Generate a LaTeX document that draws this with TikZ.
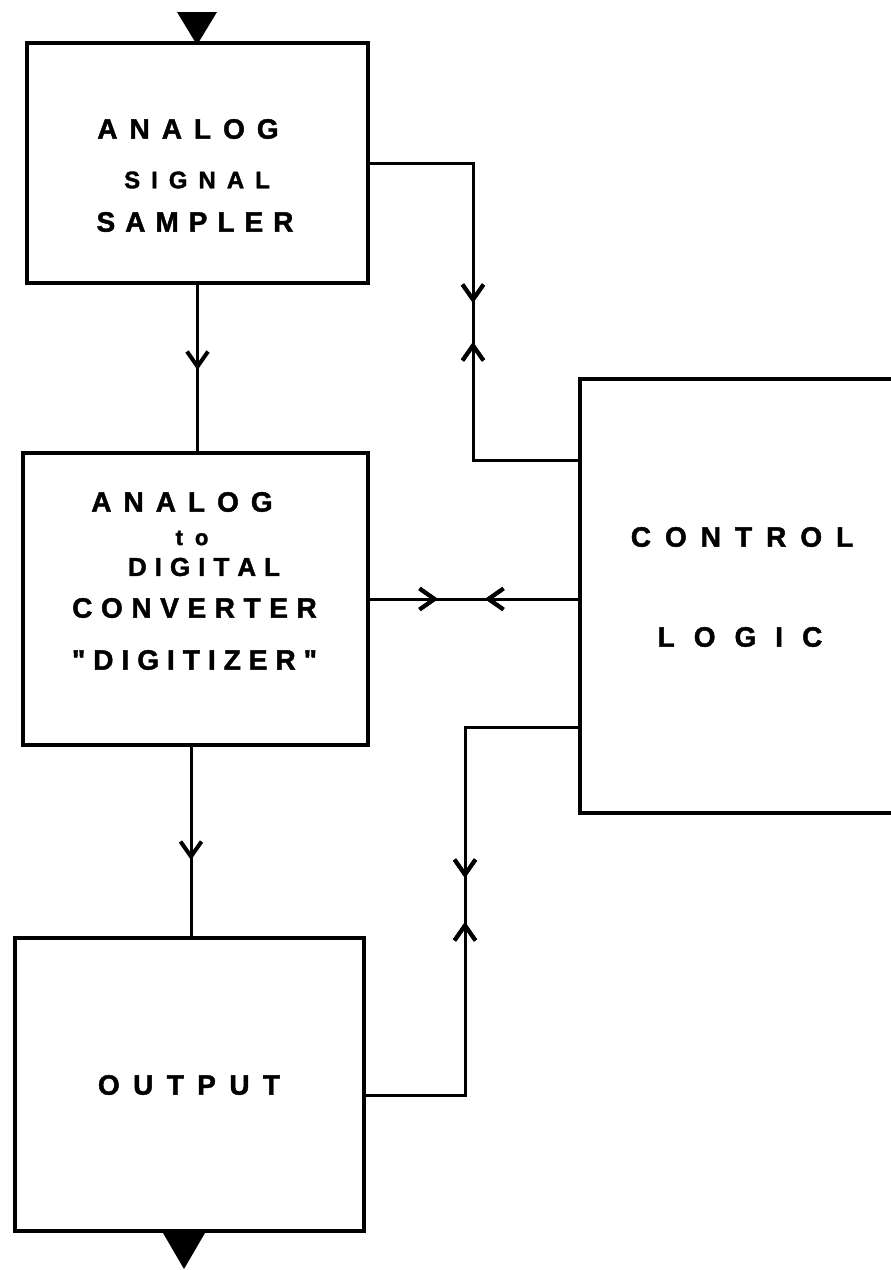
\documentclass[tikz,border=0pt]{standalone}
\usepackage{fontspec}
\setmainfont{Liberation Sans}[Ligatures=TeXOff, BoldFeatures={FakeBold=1.6}]
\usetikzlibrary{arrows.meta,decorations.markings}
\makeatletter
\newcommand\spc[2]{{\def\sp@k{#1}\@tfor\ch:=#2\do{\ch\kern\sp@k}\unkern}}
\makeatother
\tikzset{
  blk/.style={draw, line width=3.5pt, inner sep=0pt, outer sep=0pt, rectangle},
  conn/.style={line width=3pt, line cap=round, line join=miter},
  lbl/.style={inner sep=0pt, font=\bfseries\fontsize{28}{30}\selectfont},
  tipat/.style={postaction={decorate}, decoration={markings, mark=at position #1 with {\arrow{Straight Barb[length=15pt, width=21pt, line width=4pt]}}}},
  revat/.style={postaction={decorate}, decoration={markings, mark=at position #1 with {\arrowreversed{Straight Barb[length=15pt, width=21pt, line width=4pt]}}}}
}
\begin{document}
\begin{tikzpicture}[x=1pt,y=-1pt]
\path[use as bounding box, fill=white] (0,0) rectangle (891,1270);
\clip (0,0) rectangle (891,1270);

% boxes
\node[blk, minimum width=341pt, minimum height=240pt] (b1) at (197.5,163) {};
\node[blk, minimum width=345pt, minimum height=292pt] (b2) at (195.5,599) {};
\node[blk, minimum width=349pt, minimum height=293pt] (b3) at (189.5,1084.5) {};
\node[blk, minimum width=350pt, minimum height=434pt] (cl) at (755,596) {};

% labels
\node[lbl] (t1a) at (188,129) {\spc{12pt}{ANALOG}};
\node[lbl, font=\bfseries\fontsize{24}{26}\selectfont] (t1b) at (197,180) {\spc{11pt}{SIGNAL}};
\node[lbl] (t1c) at (195,222) {\spc{10pt}{SAMPLER}};

\node[lbl] (t2a) at (182,502) {\spc{12pt}{ANALOG}};
\node[lbl, font=\bfseries\fontsize{22}{24}\selectfont] (t2b) at (192,538) {\spc{12pt}{to}};
\node[lbl, font=\bfseries\fontsize{26}{28}\selectfont] (t2c) at (204,567) {\spc{8pt}{DIGITAL}};
\node[lbl] (t2d) at (194.5,608) {\spc{8.6pt}{CONVERTER}};
\node[lbl] (t2e) at (194.5,660) {\spc{8pt}{"DIGITIZER"}};

\node[lbl] (t3) at (189,1085) {\spc{13.4pt}{OUTPUT}};

\node[lbl] (tc1) at (742,537) {\spc{14pt}{CONTROL}};
\node[lbl] (tc2) at (740,637) {\spc{19pt}{LOGIC}};

% input / output triangles
\fill (177,12) -- (217,12) -- (197,45) -- cycle;
\fill (163,1233) -- (205,1233) -- (184,1269) -- cycle;

% connectors
\draw[conn, tipat=245pt, revat=284pt] (b1.east) -- (473,163) -- (473,460) -- (cl.west |- 0,460);
\draw[conn, tipat=87pt] (b1.south) -- (b1.south |- b2.north);
\draw[conn, tipat=70pt, revat=117pt] (b2.east) -- (cl.west |- b2.east);
\draw[conn, tipat=115pt] (b2.south -| 191,0) -- (b3.north -| 191,0);
\draw[conn, tipat=266pt, revat=310pt] (cl.west |- 0,727) -- (465,727) -- (465,1095) -- (b3.east |- 0,1095);
\end{tikzpicture}
\end{document}
